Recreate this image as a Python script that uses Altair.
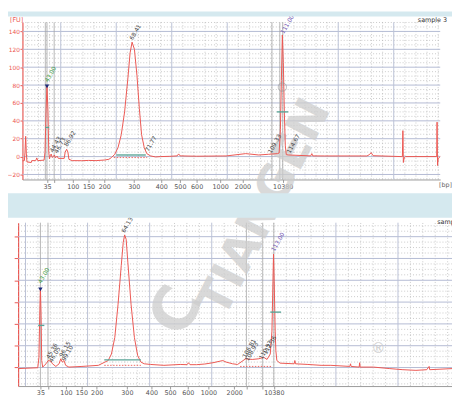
import altair as alt
import pandas as pd
import numpy as np

# ---------------- data ----------------
# top panel (sample 3): x = migration position, y = fluorescence [FU]
TOP_T = [0, 2.0, 2.6, 3.3, 4.0, 4.6, 9, 9.5, 13.5, 14.6, 15.6, 22.0, 23.0, 24.0, 25.0, 26.0,
         26.8, 27.5, 28.5, 29.3, 30.3, 31.8, 32.6, 33.5, 35.3, 36.5, 42.5, 43.5, 45.0, 46.3,
         47.3, 50.6, 60, 67.3, 75, 84, 88, 90.6, 94, 97.3, 100.6, 104, 107.3, 109.6, 111.6,
         114, 116.6, 119, 121.3, 124, 126.6, 130.6, 135.6, 140.6, 150, 157.5, 159, 160.5,
         177.3, 204, 207.3, 227.3, 240.6, 250.6, 259.6, 261.3, 262.6, 263.6, 264.6, 265.6,
         266.6, 267.6, 268.6, 270.6, 293.5, 294.6, 295.6, 307.3, 350.6, 353, 355, 357,
         385.6, 386.8, 387.3, 387.8, 388.6, 390, 421.7, 422.1, 422.6, 423.3, 425.3]
TOP_FU = [-4.8, -4.5, 5, 22.7, 3, -6, -6.6, -4.5, -4.5, -1.5, -4.5, -4.0, 5, 50, 79.5, 50,
          5, -2.5, 1.5, 2.8, -1, 0.5, 1.8, -1.5, 0.5, -2.0, -2, 5, 8.2, 5,
          -3, -4.5, -4.6, -4.3, -4.5, -3.8, -3, -1.1, 2.6, 10, 24.5, 50, 87, 116, 128,
          120, 90.5, 54, 24.5, 10, 3.3, 0.7, -0.4, 0, 0.3, 0.8, 3.0, 0.8,
          0.4, 0.7, 0.7, 3.3, 1.8, 2.6, 3.3, 4, 30, 85, 136, 105,
          50, 12, 2.2, 1.8, 0.8, 3.3, 0.8, 0.7, 0.7, 2, 4.4, 1,
          0, 0, 29, -6.6, -1.5, 0, 0, 38.5, -10, -2, 0]

# bottom panel (sample 4)
BOT_T = [0, 20, 21.2, 22.0, 22.7, 23.4, 24.0, 25, 28.4, 30.7, 33.4, 35, 38.4, 41.7, 43.4,
         45, 46.7, 48.4, 51.7, 65, 81.7, 88.4, 91.7, 95, 98.4, 101.7, 105, 107, 108.4, 110,
         111.7, 115, 118.4, 121.7, 125, 128.4, 135, 148.4, 165, 172, 173.4, 175, 181.7, 190,
         198.4, 208.4, 211.7, 218.4, 223.4, 230, 231.7, 238.4, 245, 250, 253.4, 256.7, 258.4,
         259.4, 260, 260.7, 261.7, 262.4, 263.4, 266.7, 281, 281.7, 282.4, 295, 308.4, 318.4,
         337.7, 338.4, 339, 347.2, 347.7, 348.2, 361.7, 378.4, 391.7, 405, 416, 418.4, 419, 441.7]
BOT_FU = [-0.5, -0.1, 4.7, 24, 36.3, 24, 3.2, 0.2, 1.7, 3.2, 2.9, 1.7, 0.5, 1.7, 4.0,
          2.5, 3.2, 1.0, 0.2, 0.5, 1.0, 2.5, 3.2, 6.2, 13.7, 28.8, 46.8, 57.3, 60.8, 58.8,
          48.3, 28.8, 13.7, 5.5, 2.5, 1.7, 1.4, 1.0, 1.4, 1.3, 2.2, 1.3, 1.3, 1.6,
          2.2, 3.2, 2.5, 1.7, 1.4, 3.5, 4.0, 3.7, 4.0, 4.7, 3.7, 6.2, 16.7,
          39.3, 52, 39.3, 16.7, 7.7, 3.2, 2.0, 1.7, 3.2, 1.7, 1.4, 1.0, 1.0,
          0.5, 1.7, 0.5, 0.2, 2.2, 0.2, 0.2, -0.5, -1.0, -1.3, -1.0, 0.5, -1, -0.5]

TOP_TICK_POS = [25, 32.3, 51.3, 67.3, 83.3, 113.3, 141.3, 160.3, 177.3, 201.3, 224, 265]
TOP_TICK_LBL = ["35", "", "100", "150", "200", "300", "400", "500", "600", "1000", "2000", "10380"]
BOT_TICK_POS = [22.7, 30.4, 48.7, 64.4, 80, 110.7, 135.7, 154.7, 172.7, 193.7, 220, 232.4, 249, 260.3]
BOT_TICK_LBL = ["35", "", "100", "150", "200", "300", "400", "500", "600", "1000", "2000", "", "", "10380"]
TOP_Y_TICKS = [-20, 0, 20, 40, 60, 80, 100, 120, 140]
BOT_Y_TICKS = [0, 10, 20, 30, 40, 50, 60]

TOP_PK_T = [24.3, 29.3, 34.0, 44.0, 110.6, 126.6, 251.6, 264.4, 270.6]
TOP_PK_FU = [84, 5.5, 4.4, 11.7, 131, 6.2, 4.4, 138, 4.4]
TOP_PK_TXT = ["43.00", "44.43", "46.73", "86.92", "68.41", "71.77", "109.33", "111.00", "114.67"]
TOP_PK_KIND = ["lower", "peak", "peak", "peak", "peak", "peak", "peak", "upper", "peak"]

BOT_PK_T = [21.8, 30.2, 33.0, 43.4, 45.9, 106.7, 230.0, 232.6, 246.7, 251.0, 259.2]
BOT_PK_FU = [38.8, 4.2, 2.6, 5.0, 3.2, 62, 4.7, 3.2, 4.0, 6.2, 53.5]
BOT_PK_TXT = ["43.00", "45.36", "46.05", "96.15", "99.10", "64.13", "106.81", "108.93",
              "110.53", "112.36", "113.00"]
BOT_PK_KIND = ["lower", "peak", "peak", "peak", "peak", "peak", "peak", "peak", "peak", "peak", "upper"]

# ---------------- geometry ----------------
W, H = 452, 396
TOP_XMAX, BOT_XMAX = 425.3, 441.7
TOP_YD, BOT_YD = [-25.6, 150.2], [-8.5, 66.4]
sx_top = alt.Scale(domain=[0, TOP_XMAX], range=[14.7, 440], nice=False, zero=False)
sy_top = alt.Scale(domain=TOP_YD, range=[171, 11], nice=False, zero=False)
sx_bot = alt.Scale(domain=[0, BOT_XMAX], range=[10.3, 452], nice=False, zero=False)
sy_bot = alt.Scale(domain=BOT_YD, range=[381.3, 215], nice=False, zero=False)

RED = "#ec5752"
GREY_TXT = "#444444"
BLUE_BG = "#d5e9ef"
FONT = "DejaVu Sans"


def label_expr(pos, lbl):
    p = ",".join(str(v) for v in pos)
    l = ",".join("'" + s + "'" for s in lbl)
    return f"[{l}][indexof([{p}], datum.value)]"


def xaxis(pos, lbl, offset):
    return alt.Axis(orient="bottom", offset=offset, values=pos, labelExpr=label_expr(pos, lbl),
                    grid=False, title=None, domainColor="#9a9a9a", tickColor="#9a9a9a",
                    tickSize=3, labelColor="#555555", labelFontSize=6.5, labelFont=FONT,
                    labelPadding=1, labelOverlap=False, labelFlush=False)


def yaxis(vals, offset, labels=True, tick=2.5):
    return alt.Axis(orient="left", offset=offset, values=vals, grid=False, title=None,
                    domainColor=RED, tickColor=RED, tickSize=tick, labels=labels,
                    labelColor=RED, labelFontSize=6, labelFont=FONT, labelPadding=0.5,
                    domainWidth=1.2, labelOverlap=False, labelFlush=False)


def grid_layers(sx, sy, xmax, yd, ymaj, ystep_minor, vmaj, vstep_minor, vdark):
    ymin_ = np.arange(np.ceil(yd[0] / ystep_minor) * ystep_minor, yd[1], ystep_minor)
    ymin_ = [float(v) for v in ymin_ if min(abs(v - m) for m in ymaj) > 0.01]
    h_maj = pd.DataFrame({"y": ymaj, "x0": 0.0, "x1": xmax})
    h_min = pd.DataFrame({"y": ymin_, "x0": 0.0, "x1": xmax})
    vm = []
    start = vmaj[0]
    while start - vstep_minor > 0:
        start -= vstep_minor
    v = start
    while v < xmax:
        if min(abs(v - m) for m in vmaj) > 0.5:
            vm.append(v)
        v += vstep_minor
    v_maj = pd.DataFrame({"x": vmaj, "y0": yd[0], "y1": yd[1]})
    v_min = pd.DataFrame({"x": vm, "y0": yd[0], "y1": yd[1]})
    v_dk = pd.DataFrame({"x": vdark, "y0": yd[0], "y1": yd[1]})
    out = []
    out.append(alt.Chart(h_min).mark_rule(color="#b3b3b3", strokeDash=[1, 2], strokeWidth=0.7).encode(
        x=alt.X("x0:Q", scale=sx, axis=None), x2="x1:Q", y=alt.Y("y:Q", scale=sy, axis=None)))
    out.append(alt.Chart(v_min).mark_rule(color="#b3b3b3", strokeDash=[1, 2], strokeWidth=0.7).encode(
        x=alt.X("x:Q", scale=sx, axis=None), y=alt.Y("y0:Q", scale=sy, axis=None), y2="y1:Q"))
    out.append(alt.Chart(h_maj).mark_rule(color="#b4bbd3", strokeWidth=1).encode(
        x=alt.X("x0:Q", scale=sx, axis=None), x2="x1:Q", y=alt.Y("y:Q", scale=sy, axis=None)))
    out.append(alt.Chart(v_maj).mark_rule(color="#bcc2d6", strokeWidth=1).encode(
        x=alt.X("x:Q", scale=sx, axis=None), y=alt.Y("y0:Q", scale=sy, axis=None), y2="y1:Q"))
    out.append(alt.Chart(v_dk).mark_rule(color="#a5a5a5", strokeWidth=0.8).encode(
        x=alt.X("x:Q", scale=sx, axis=None), y=alt.Y("y0:Q", scale=sy, axis=None), y2="y1:Q"))
    return out


def panel_layers(sx, sy, t, fu, xax, yax, pk_t, pk_fu, pk_txt, pk_kind,
                 tri, teal, red_dots, circle=None):
    out = []
    trace = pd.DataFrame({"t": t, "fu": fu})
    out.append(alt.Chart(trace).mark_line(color=RED, strokeWidth=1, interpolate="linear").encode(
        x=alt.X("t:Q", scale=sx, axis=xax), y=alt.Y("fu:Q", scale=sy, axis=yax), order="t:Q"))
    tl = pd.DataFrame({"t0": [a[0] for a in teal], "t1": [a[1] for a in teal], "fu": [a[2] for a in teal]})
    out.append(alt.Chart(tl).mark_rule(color="#5aa597", strokeWidth=1.4).encode(
        x=alt.X("t0:Q", scale=sx, axis=None), x2="t1:Q", y=alt.Y("fu:Q", scale=sy, axis=None)))
    rd = pd.DataFrame({"t0": [a[0] for a in red_dots], "t1": [a[1] for a in red_dots],
                       "fu": [a[2] for a in red_dots]})
    out.append(alt.Chart(rd).mark_rule(color=RED, strokeWidth=0.9, strokeDash=[1.5, 1.5]).encode(
        x=alt.X("t0:Q", scale=sx, axis=None), x2="t1:Q", y=alt.Y("fu:Q", scale=sy, axis=None)))
    tr = pd.DataFrame({"t": [tri[0]], "fu": [tri[1]]})
    out.append(alt.Chart(tr).mark_point(shape="triangle-down", filled=True, color="#1d2b78",
                                        size=20, opacity=1).encode(
        x=alt.X("t:Q", scale=sx, axis=None), y=alt.Y("fu:Q", scale=sy, axis=None)))
    if circle is not None:
        cc = pd.DataFrame({"t": [circle[0]], "fu": [circle[1]]})
        out.append(alt.Chart(cc).mark_point(shape="circle", filled=False, color="#8f8f8f",
                                            size=70, strokeWidth=0.8).encode(
            x=alt.X("t:Q", scale=sx, axis=None), y=alt.Y("fu:Q", scale=sy, axis=None)))
    pk = pd.DataFrame({"t": pk_t, "fu": pk_fu, "txt": pk_txt, "kind": pk_kind})
    out.append(alt.Chart(pk).mark_text(angle=300, align="left", baseline="middle", fontSize=6,
                                       font=FONT).encode(
        x=alt.X("t:Q", scale=sx, axis=None), y=alt.Y("fu:Q", scale=sy, axis=None), text="txt:N",
        color=alt.Color("kind:N", scale=alt.Scale(domain=["lower", "peak", "upper"],
                                                  range=["#3d9c45", GREY_TXT, "#7052b0"]),
                        legend=None)))
    return out


layers = []
layers += grid_layers(sx_top, sy_top, TOP_XMAX, TOP_YD, TOP_Y_TICKS, 5,
                      [39, 95.5, 152, 208.5, 321.5, 378], 11.3, [23.3, 25, 32.3, 254, 262, 265])
layers += grid_layers(sx_bot, sy_bot, BOT_XMAX, BOT_YD, BOT_Y_TICKS, 2.5,
                      [7.5, 70.7, 133.9, 197.1, 323.5, 386.7], 12.64, [22.7, 30.4, 232.4, 249, 260.3])

# watermark (pixel coordinates)
wm = pd.DataFrame({"px": [262, 172], "py": [200, 305], "txt": ["TIANGEN", "C"], "sz": [48, 62]})
layers.append(alt.Chart(wm).mark_text(angle=297, align="center", baseline="middle",
                                      fontWeight="bold", font=FONT, color="#cdcdcd",
                                      opacity=0.75).encode(
    x=alt.X("px:Q", scale=None, axis=None), y=alt.Y("py:Q", scale=None, axis=None),
    text="txt:N", size=alt.Size("sz:Q", scale=None, legend=None)))
reg = pd.DataFrame({"px": [377], "py": [344], "txt": ["®"]})
layers.append(alt.Chart(reg).mark_text(fontSize=14, color="#cdcdcd", font=FONT).encode(
    x=alt.X("px:Q", scale=None, axis=None), y=alt.Y("py:Q", scale=None, axis=None), text="txt:N"))

layers += panel_layers(sx_top, sy_top, TOP_T, TOP_FU,
                       xaxis(TOP_TICK_POS, TOP_TICK_LBL, -225), yaxis(TOP_Y_TICKS, -14.7),
                       TOP_PK_T, TOP_PK_FU, TOP_PK_TXT, TOP_PK_KIND,
                       tri=(25, 78.5),
                       teal=[(23.3, 27.3, 32.6), (95.6, 125.6, 1.8), (259, 270.6, 50)],
                       red_dots=[(93, 127, -1.1)],
                       circle=(264.6, 77.7))
layers += panel_layers(sx_bot, sy_bot, BOT_T, BOT_FU,
                       xaxis(BOT_TICK_POS, BOT_TICK_LBL, -14.7),
                       yaxis(BOT_Y_TICKS, -10.3, labels=False, tick=4),
                       BOT_PK_T, BOT_PK_FU, BOT_PK_TXT, BOT_PK_KIND,
                       tri=(22.7, 35.8),
                       teal=[(20.4, 26.7, 19.3), (87.7, 125, 3.5), (256.7, 267.7, 25.4)],
                       red_dots=[(87.7, 125, 1.0), (226, 258, 0.5)])

# blue strips between / above the panels (pixel coordinates)
strips = pd.DataFrame({"x0": [0, 0], "x1": [W, W], "y0": [0, 185], "y1": [5, 210]})
layers.append(alt.Chart(strips).mark_rect(color=BLUE_BG).encode(
    x=alt.X("x0:Q", scale=None, axis=None), x2="x1:Q",
    y=alt.Y("y0:Q", scale=None, axis=None), y2="y1:Q"))

heads = pd.DataFrame({"px": [2, 447, 452, 437], "py": [9, 9, 177, 214],
                      "txt": ["[FU]", "sample 3", "[bp]", "sample 4"],
                      "al": ["l", "r", "r", "l"], "c": ["red", "k", "g", "k"]})
for al, align in [("l", "left"), ("r", "right")]:
    sub = heads[heads["al"] == al]
    layers.append(alt.Chart(sub).mark_text(align=align, baseline="middle", fontSize=6.5,
                                           font=FONT).encode(
        x=alt.X("px:Q", scale=None, axis=None), y=alt.Y("py:Q", scale=None, axis=None),
        text="txt:N",
        color=alt.Color("c:N", scale=alt.Scale(domain=["red", "k", "g"],
                                               range=[RED, "#333333", "#666666"]), legend=None)))

chart = alt.layer(*layers).resolve_scale(x="independent", y="independent", color="independent",
                                         size="independent").properties(
    width=W, height=H, autosize=alt.AutoSizeParams(type="none"), padding=0,
    background="white").configure_view(stroke=None)

chart.save("out.html", embed_options={"renderer": "svg", "actions": False})
